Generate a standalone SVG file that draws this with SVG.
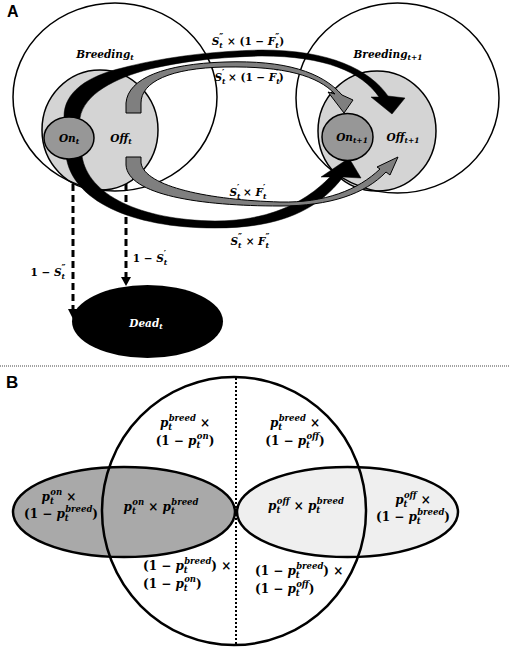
<svg xmlns="http://www.w3.org/2000/svg" width="510" height="648" viewBox="0 0 510 648">
<style>
.m{font-family:"DejaVu Serif",serif;font-weight:bold;font-style:italic;font-size:10.5px;fill:#000}
.s{font-size:7.5px}
.pr{font-size:9px;font-style:normal}
.u{font-style:normal}
.pb{font-family:"DejaVu Serif",serif;font-weight:bold;font-style:italic;font-size:12px;fill:#000}
.pb .s{font-size:8.5px}
.off{fill:#d4d4d4;stroke:#000;stroke-width:1.5}
.on{fill:#979797;stroke:#000;stroke-width:1.5}
.big{fill:none;stroke:#000;stroke-width:1.5}
.ga{fill:#7f7f7f;stroke:#000;stroke-width:1}
.ba{fill:#000;stroke:#000;stroke-width:0.5}
.dash{stroke:#000;stroke-width:3;stroke-dasharray:7 4;fill:none}
.lab{font-family:"Liberation Sans",Arial,sans-serif;font-weight:bold;fill:#000}
</style>
<rect width="510" height="648" fill="#fff"/>
<text class="lab" x="7" y="17" font-size="16">A</text>
<text class="lab" x="6" y="388" font-size="17">B</text>

<g id="off-t"><ellipse class="off" cx="100" cy="130" rx="58" ry="60"/></g>
<g id="off-t1"><ellipse class="off" cx="377" cy="131" rx="59" ry="60"/></g>
<g id="breeding-t"><ellipse class="big" cx="115" cy="97" rx="102" ry="94"/></g>
<g id="breeding-t1"><ellipse class="big" cx="397.5" cy="98" rx="101.5" ry="95"/></g>

<g id="connectors">
<path class="ba" d="M64,118 C63,92 88,76 122,68 C160,58 210,51 262,50 C330,50 370,70 388,96 L405,98 L392,114 L371,97 L379,97 C362,72 325,56 262,56 C215,57 180,62 150,69 C115,78 84,94 80,118 Z"/>
<path class="ba" d="M82,156 C88,195 140,220 215,221 C265,221 303,205 330,177 L321,177 L349,158 L361,178 L343,177 C318,210 280,228 215,228 C130,228 72,200 66,156 Z"/>
<path class="ga" d="M126,113 L126,103 C128,78 165,64 225,62 C285,60 322,72 342,95 L353,100 L344,113 L328,92 L335,94 C318,76 285,66 225,67 C170,68 141,82 141,103 L141,113 Z"/>
<path class="ga" d="M126,157 L141,157 L141,163 C145,187 210,200 280,202 C325,203 358,190 380,169 L377,167 L398,157 L390,175 L386,172 C365,194 330,206 280,206 C200,206 128,195 126,165 Z"/>
<line class="dash" x1="73" y1="184" x2="73" y2="311"/>
<polygon points="68,309 78,309 73,319" fill="#000"/>
<line class="dash" x1="126" y1="184" x2="126" y2="278"/>
<polygon points="121,277 131,277 126,286" fill="#000"/>
</g>

<g id="on-t"><ellipse class="on" cx="69" cy="138" rx="25" ry="21"/></g>
<g id="on-t1"><ellipse class="on" cx="347.5" cy="137" rx="25.5" ry="23.5"/></g>
<g id="dead-t"><ellipse cx="147.5" cy="321.5" rx="75.5" ry="36.5" fill="#000"/>
<text class="m" x="146" y="327" text-anchor="middle" style="fill:#fff">Dead<tspan class="s" dy="2">t</tspan></text></g>

<g id="texts-a">
<text class="m" x="105" y="58" text-anchor="middle">Breeding<tspan class="s" dy="2">t</tspan></text>
<text class="m" x="388" y="58" text-anchor="middle">Breeding<tspan class="s" dy="2">t+1</tspan></text>
<text class="m" x="69" y="142" text-anchor="middle">On<tspan class="s" dy="2">t</tspan></text>
<text class="m" x="121" y="142" text-anchor="middle">Off<tspan class="s" dy="2">t</tspan></text>
<text class="m" x="352" y="141" text-anchor="middle">On<tspan class="s" dy="2">t+1</tspan></text>
<text class="m" x="403" y="141" text-anchor="middle">Off<tspan class="s" dy="2">t+1</tspan></text>
<text class="m" x="248" y="45" text-anchor="middle">S<tspan class="s" dy="3">t</tspan><tspan class="pr" dx="-3.5" dy="-8.5">″</tspan><tspan class="u" dy="5.5"> × (1 − </tspan>F<tspan class="s" dy="3">t</tspan><tspan class="pr" dx="-3.5" dy="-8.5">″</tspan><tspan class="u" dy="5.5">)</tspan></text>
<text class="m" x="249" y="81" text-anchor="middle">S<tspan class="s" dy="3">t</tspan><tspan class="pr" dx="-3.5" dy="-8.5">′</tspan><tspan class="u" dy="5.5"> × (1 − </tspan>F<tspan class="s" dy="3">t</tspan><tspan class="pr" dx="-3.5" dy="-8.5">′</tspan><tspan class="u" dy="5.5">)</tspan></text>
<text class="m" x="248" y="196" text-anchor="middle">S<tspan class="s" dy="3">t</tspan><tspan class="pr" dx="-3.5" dy="-8.5">′</tspan><tspan class="u" dy="5.5"> × </tspan>F<tspan class="s" dy="3">t</tspan><tspan class="pr" dx="-3.5" dy="-8.5">′</tspan></text>
<text class="m" x="250" y="245" text-anchor="middle">S<tspan class="s" dy="3">t</tspan><tspan class="pr" dx="-3.5" dy="-8.5">″</tspan><tspan class="u" dy="5.5"> × </tspan>F<tspan class="s" dy="3">t</tspan><tspan class="pr" dx="-3.5" dy="-8.5">″</tspan></text>
<text class="m" x="150" y="262" text-anchor="middle"><tspan class="u">1 − </tspan>S<tspan class="s" dy="3">t</tspan><tspan class="pr" dx="-3.5" dy="-8.5">′</tspan></text>
<text class="m" x="48" y="276" text-anchor="middle"><tspan class="u">1 − </tspan>S<tspan class="s" dy="3">t</tspan><tspan class="pr" dx="-3.5" dy="-8.5">″</tspan></text>
</g>

<line x1="0" y1="366" x2="510" y2="366" stroke="#444" stroke-width="1" stroke-dasharray="1 1"/>

<g id="on-set"><ellipse cx="124" cy="512" rx="111" ry="45" fill="#a9a9a9" stroke="#000" stroke-width="2.5"/></g>
<g id="off-set"><ellipse cx="347.5" cy="512" rx="110.5" ry="45" fill="#efefef" stroke="#000" stroke-width="2.5"/></g>
<g id="breed-set"><ellipse cx="234" cy="511" rx="132" ry="134" fill="none" stroke="#000" stroke-width="2.5"/></g>
<line x1="236" y1="378" x2="236" y2="645" stroke="#000" stroke-width="2" stroke-dasharray="2 2"/>

<g id="texts-b">
<text class="pb" x="185" y="427" text-anchor="middle">p<tspan class="s" dy="3">t</tspan><tspan class="s" dx="-3.6" dy="-9">breed</tspan><tspan class="u" dy="6"> ×</tspan></text>
<text class="pb" x="185" y="445" text-anchor="middle"><tspan class="u">(1 − </tspan>p<tspan class="s" dy="3">t</tspan><tspan class="s" dx="-3.6" dy="-9">on</tspan><tspan class="u" dy="6">)</tspan></text>
<text class="pb" x="59" y="501" text-anchor="middle">p<tspan class="s" dy="3">t</tspan><tspan class="s" dx="-3.6" dy="-9">on</tspan><tspan class="u" dy="6"> ×</tspan></text>
<text class="pb" x="61" y="518" text-anchor="middle"><tspan class="u">(1 − </tspan>p<tspan class="s" dy="3">t</tspan><tspan class="s" dx="-3.6" dy="-9">breed</tspan><tspan class="u" dy="6">)</tspan></text>
<text class="pb" x="161" y="511" text-anchor="middle">p<tspan class="s" dy="3">t</tspan><tspan class="s" dx="-3.6" dy="-9">on</tspan><tspan class="u" dy="6"> × </tspan>p<tspan class="s" dy="3">t</tspan><tspan class="s" dx="-3.6" dy="-9">breed</tspan></text>
<text class="pb" x="143" y="570"><tspan class="u">(1 − </tspan>p<tspan class="s" dy="3">t</tspan><tspan class="s" dx="-3.6" dy="-9">breed</tspan><tspan class="u" dy="6">) ×</tspan></text>
<text class="pb" x="143" y="588"><tspan class="u">(1 − </tspan>p<tspan class="s" dy="3">t</tspan><tspan class="s" dx="-3.6" dy="-9">on</tspan><tspan class="u" dy="6">)</tspan></text>
<text class="pb" x="295" y="427" text-anchor="middle">p<tspan class="s" dy="3">t</tspan><tspan class="s" dx="-3.6" dy="-9">breed</tspan><tspan class="u" dy="6"> ×</tspan></text>
<text class="pb" x="295" y="445" text-anchor="middle"><tspan class="u">(1 − </tspan>p<tspan class="s" dy="3">t</tspan><tspan class="s" dx="-3.6" dy="-9">off</tspan><tspan class="u" dy="6">)</tspan></text>
<text class="pb" x="306" y="510" text-anchor="middle">p<tspan class="s" dy="3">t</tspan><tspan class="s" dx="-3.6" dy="-9">off</tspan><tspan class="u" dy="6"> × </tspan>p<tspan class="s" dy="3">t</tspan><tspan class="s" dx="-3.6" dy="-9">breed</tspan></text>
<text class="pb" x="413" y="504" text-anchor="middle">p<tspan class="s" dy="3">t</tspan><tspan class="s" dx="-3.6" dy="-9">off</tspan><tspan class="u" dy="6"> ×</tspan></text>
<text class="pb" x="413" y="521" text-anchor="middle"><tspan class="u">(1 − </tspan>p<tspan class="s" dy="3">t</tspan><tspan class="s" dx="-3.6" dy="-9">breed</tspan><tspan class="u" dy="6">)</tspan></text>
<text class="pb" x="255" y="575"><tspan class="u">(1 − </tspan>p<tspan class="s" dy="3">t</tspan><tspan class="s" dx="-3.6" dy="-9">breed</tspan><tspan class="u" dy="6">) ×</tspan></text>
<text class="pb" x="255" y="593"><tspan class="u">(1 − </tspan>p<tspan class="s" dy="3">t</tspan><tspan class="s" dx="-3.6" dy="-9">off</tspan><tspan class="u" dy="6">)</tspan></text>
</g>
</svg>
